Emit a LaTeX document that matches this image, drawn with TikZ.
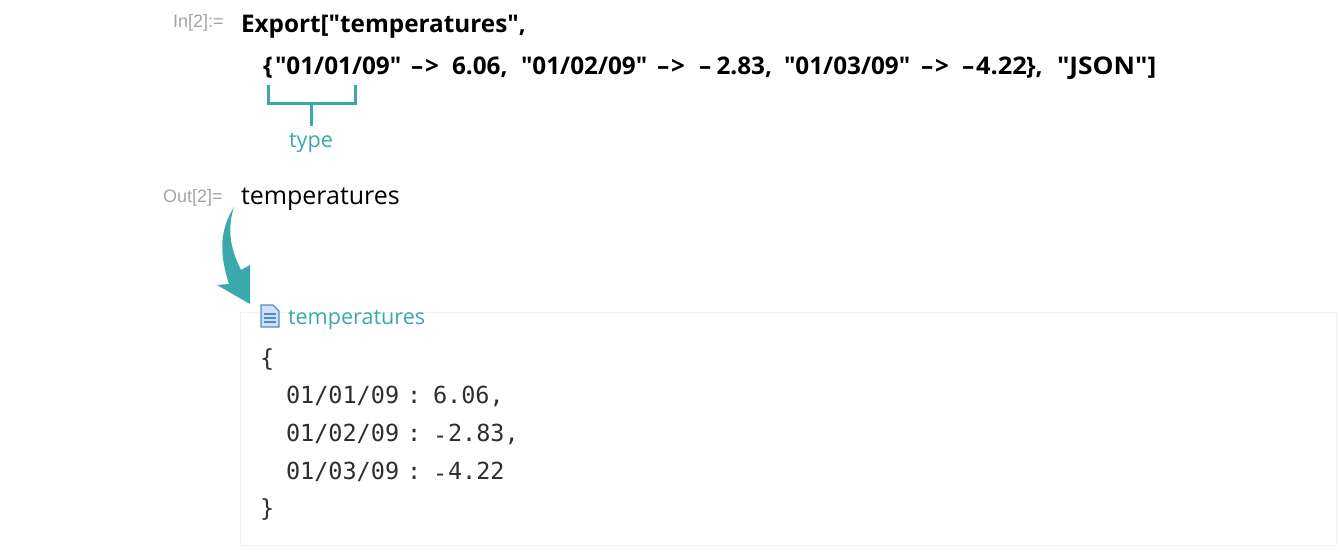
\documentclass[tikz,border=0pt]{standalone}
\usepackage{graphicx}
\usepackage{fontspec}
\setmainfont{Open Sans}
\newfontfamily\cf{Open Sans}
\setsansfont{Liberation Sans}
\setmonofont{DejaVu Sans Mono}
\definecolor{teal1}{HTML}{3AA9AC}
\definecolor{lab}{HTML}{A3A3A3}
\definecolor{boxl}{HTML}{F3F3F3}
\definecolor{docb}{HTML}{4F8BD0}
\definecolor{docf}{HTML}{CFE0F4}
\newcommand{\arr}{–\kern0.08em>}
\newcommand{\lowminus}{\raisebox{-2.5pt}{-}}
\tikzset{
 txt/.style={anchor=base west,inner sep=0pt,outer sep=0pt},
 labl/.style={txt,text=lab,font=\sffamily\fontsize{18}{18}\selectfont},
 code/.style={txt,font=\cf\bfseries\fontsize{24.3}{24.3}\selectfont},
 plain/.style={txt,font=\fontsize{25}{25}\selectfont},
 tealt/.style={txt,text=teal1,font=\fontsize{21.6}{21.6}\selectfont},
 mono/.style={txt,text=black!82,font=\ttfamily\fontsize{23.5}{23.5}\selectfont},
 brk/.style={draw=teal1,line width=3pt}
}
\begin{document}
\begin{tikzpicture}[x=1pt,y=-1pt]
\useasboundingbox (0,0) rectangle (1340,552);
\draw[boxl,line width=1pt] (240.5,312) rectangle (1336,545);
\node[labl] (inl) at (173,27) {In[2]:=};
\node[code] (l1) at (241,32) {Export["temperatures",};
\node[code] (t1) at (263,74) {\{};
\node[code] (t2) at (275,74) {"01/01/09"};
\node[code] (t3) at (411,74) {\arr};
\node[code] (t4) at (452,74) {6.06,};
\node[code] (t5) at (521,74) {"01/02/09"};
\node[code] (t6) at (657,74) {\arr};
\node[code] (t7) at (699,74) {–};
\node[code] (t8) at (716.5,74) {2.83,};
\node[code] (t9) at (784,74) {"01/03/09"};
\node[code] (t10) at (921,74) {\arr};
\node[code] (t11) at (962,74) {–};
\node[code] (t12) at (976,74) {\scalebox{1.05}[1]{4.22}};
\node[code] (t12b) at (1026,74) {\},};
\node[code] (t13) at (1057,74) {\scalebox{1.085}[1]{"JSON"]}};
\draw[brk] (268,85) -- (268,103) -- (355,103) -- (355,85);
\coordinate (bm) at (311,103);
\coordinate (be) at (311,126);
\draw[brk] (bm) -- (be);
\node[tealt] (type) at (289,147) {type};
\node[labl] (outl) at (163,202) {Out[2]=};
\node[plain] (temp) at (241,204) {temperatures};
\fill[teal1] (234,207) .. controls (221,228) and (218,250) .. (229,284) -- (217,285) -- (250,304) -- (250,265) -- (241,270) .. controls (232,252) and (226,232) .. (234,207);
\filldraw[draw=docb,fill=docf,line width=1.3pt] (261,305) -- (273,305) -- (279,311) -- (279,327) -- (261,327) -- cycle;
\draw[docb,line width=1.4pt] (264,314) -- (276,314) (264,318) -- (276,318) (264,322) -- (276,322);
\node[tealt] (fname) at (288,324) {temperatures};
\node[mono] (ob) at (260,366) {\{};
\node[mono] (a1) at (286,403) {01/01/09};
\node[mono] (c1) at (407,403) {:};
\node[mono] (v1) at (433,403) {6.06,};
\node[mono] (a2) at (286,441) {01/02/09};
\node[mono] (c2) at (407,441) {:};
\node[mono] (m2) at (433,441) {\lowminus};
\node[mono] (v2) at (448,441) {2.83,};
\node[mono] (a3) at (286,479) {01/03/09};
\node[mono] (c3) at (407,479) {:};
\node[mono] (m3) at (433,479) {\lowminus};
\node[mono] (v3) at (448,479) {4.22};
\node[mono] (cb) at (260,516) {\}};
\end{tikzpicture}
\end{document}
